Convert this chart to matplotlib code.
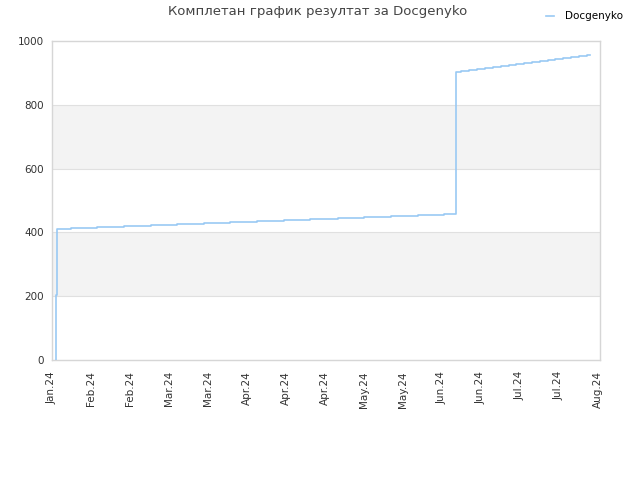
import numpy as np
from matplotlib import pyplot as plt

# x positions in tick units (tick i = label i)
x_pos = [0.095, 0.095, 0.128, 0.488, 1.156, 1.849, 2.543, 3.211, 3.904, 4.572,
         5.266, 5.960, 6.627, 7.321, 7.989, 8.682, 9.376, 10.044, 10.355,
         10.480, 10.686, 10.891, 11.097, 11.302, 11.508, 11.713, 11.893,
         12.098, 12.304, 12.509, 12.714, 12.894, 13.100, 13.306, 13.511,
         13.717, 13.794]
scores = [0, 203, 411, 414, 417, 420, 423, 426, 429, 432,
          435, 438, 441, 444, 447, 451, 454, 457, 904,
          907, 910, 913, 916, 919, 922, 925, 928,
          931, 934, 937, 940, 943, 946, 950, 953,
          956, 956]
tick_labels = ["Jan.24", "Feb.24", "Feb.24", "Mar.24", "Mar.24", "Apr.24",
               "Apr.24", "Apr.24", "May.24", "May.24", "Jun.24", "Jun.24",
               "Jul.24", "Jul.24", "Aug.24"]
y_ticks = [0, 200, 400, 600, 800, 1000]

fig = plt.figure(figsize=(6.4, 4.8), dpi=100)
ax = fig.add_axes([52 / 640, 1 - 360 / 480, 548 / 640, 319 / 480])

# alternating bands
for lo in (200, 600):
    ax.axhspan(lo, lo + 200, color="#f3f3f3", zorder=0, lw=0)
for yv in y_ticks[1:-1]:
    ax.axhline(yv, color="#e0e0e0", lw=0.8, zorder=1)

ax.plot(x_pos, scores, drawstyle="steps-post", color="#99c9f4", lw=1.2,
        zorder=3, label="Docgenyko")

ax.set_xlim(0, 14.05)
ax.set_ylim(0, 1000)
ax.set_xticks(range(len(tick_labels)))
ax.set_xticklabels(tick_labels, rotation=90, fontsize=7.5, color="#333333")
ax.set_yticks(y_ticks)
ax.set_yticklabels([str(v) for v in y_ticks], fontsize=7.5, color="#333333")
ax.tick_params(length=0, pad=6)
ax.tick_params(axis="x", pad=8)
for s in ax.spines.values():
    s.set_color("#d6d6d6")
    s.set_linewidth(1)

fig.text(318 / 640, 1 - 12 / 480, "Комплетан график резултат за Docgenyko",
         ha="center", va="center", fontsize=9.5, color="#444444")
ax.legend(loc="upper right", bbox_to_anchor=(632 / 640, 1 - 2 / 480),
          bbox_transform=fig.transFigure, frameon=False, fontsize=7.5,
          handlelength=0.8, handletextpad=1.0)

fig.savefig("out.png", dpi=100)
